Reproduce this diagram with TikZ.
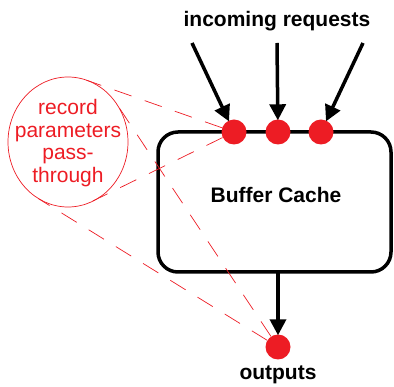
\documentclass[tikz,border=0pt]{standalone}
\usepackage{fontspec}
\setmainfont{Liberation Sans}
\usetikzlibrary{arrows.meta,shapes.geometric}
\begin{document}
\begin{tikzpicture}[x=1pt,y=-1pt,
  lbl/.style={font=\fontsize{21}{22}\selectfont\bfseries, inner sep=0pt},
  reddot/.style={circle, draw=none, minimum size=25pt, inner sep=0pt},
  bigarrow/.style={line width=3.5pt, -{Triangle[width=16pt,length=16pt]}, shorten >=-1pt},
  guide/.style={line width=0.7pt, dash pattern=on 18pt off 14pt},
]
\definecolor{dotred}{RGB}{237,28,36}
\tikzset{reddot/.append style={fill=dotred}, guide/.append style={draw=dotred}}
\useasboundingbox (0,0) rectangle (394,387);
% box
\node[draw, line width=3.5pt, rounded corners=20pt, minimum width=233pt, minimum height=140pt] (box) at (274.5,202) {};
\node[lbl] (bc) at (276,195) {Buffer Cache};
% top label
\node[lbl, anchor=base] (inc) at (277,27) {incoming requests};
% bottom label
\node[lbl, anchor=base] (out) at (278,380) {outputs};
% ellipse
\node[draw=dotred, line width=0.7pt, ellipse, minimum width=120pt, minimum height=130pt, inner sep=0pt] (ell) at (68,142) {};
\node[text=dotred, align=center, font=\fontsize{21}{22.5}\selectfont, inner sep=0pt] (rp) at (68,143) {record\\parameters\\pass-\\through};
% tangent points
\coordinate (t1) at (86.5,80.2);
\coordinate (t2) at (92.8,201);
\coordinate (t3) at (116.7,104);
\coordinate (t4) at (38.2,198.5);
% arrow starts
\coordinate (s1) at (192,43);
\coordinate (s2) at (277,43);
\coordinate (s3) at (363,43);
\coordinate (bs) at (278,272);
% dots
\node[reddot] (d1) at (234,132) {};
\node[reddot] (d2) at (278,132) {};
\node[reddot] (d3) at (321,132) {};
\node[reddot] (d4) at (278,347) {};
% arrows
\draw[bigarrow] (s1) -- (d1);
\draw[bigarrow] (s2) -- (d2);
\draw[bigarrow] (s3) -- (d3);
\draw[bigarrow] (bs) -- (d4);
% dashed guides
\draw[guide] (d1) -- (t1);
\draw[guide] (d1) -- (t2);
\draw[guide] (d4) -- (t3);
\draw[guide] (d4) -- (t4);
\end{tikzpicture}
\end{document}
